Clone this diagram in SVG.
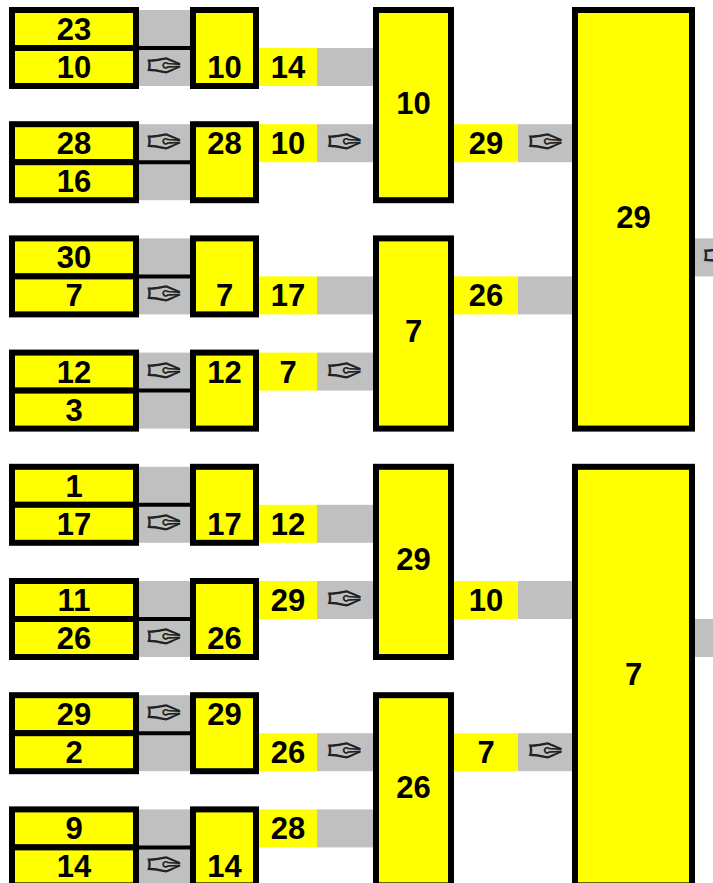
<svg xmlns="http://www.w3.org/2000/svg" width="713" height="883" viewBox="0 0 713 883">
<style>
.cell{fill:#ffff00;stroke:#000;stroke-width:6}
.gray{fill:#c0c0c0}
.lbl{fill:#ffff00}
.dv{stroke:#000;stroke-width:4}
.t{font-family:"Liberation Sans",Arial,sans-serif;font-weight:bold;font-size:31px;text-anchor:middle;fill:#000}
.a{font-family:"DejaVu Sans",sans-serif;font-size:46px;text-anchor:middle;fill:#222}
</style>
<rect width="713" height="883" fill="#fff"/>
<g id="connectors">
<rect class="gray" x="136" y="10" width="57" height="76"/><line class="dv" x1="139" y1="48" x2="190" y2="48"/><text class="a" x="164.5" y="82">✑</text>
<rect class="gray" x="136" y="124.2" width="57" height="76"/><line class="dv" x1="139" y1="162.2" x2="190" y2="162.2"/><text class="a" x="164.5" y="158.2">✑</text>
<rect class="gray" x="136" y="238.4" width="57" height="76"/><line class="dv" x1="139" y1="276.4" x2="190" y2="276.4"/><text class="a" x="164.5" y="310.4">✑</text>
<rect class="gray" x="136" y="352.6" width="57" height="76"/><line class="dv" x1="139" y1="390.6" x2="190" y2="390.6"/><text class="a" x="164.5" y="386.6">✑</text>
<rect class="gray" x="136" y="466.8" width="57" height="76"/><line class="dv" x1="139" y1="504.8" x2="190" y2="504.8"/><text class="a" x="164.5" y="538.8">✑</text>
<rect class="gray" x="136" y="581" width="57" height="76"/><line class="dv" x1="139" y1="619" x2="190" y2="619"/><text class="a" x="164.5" y="653">✑</text>
<rect class="gray" x="136" y="695.2" width="57" height="76"/><line class="dv" x1="139" y1="733.2" x2="190" y2="733.2"/><text class="a" x="164.5" y="729.2">✑</text>
<rect class="gray" x="136" y="809.4" width="57" height="76"/><line class="dv" x1="139" y1="847.4" x2="190" y2="847.4"/><text class="a" x="164.5" y="881.4">✑</text>
<rect class="gray" x="317" y="48" width="59" height="38"/><rect class="lbl" x="259" y="48" width="58" height="38"/><text class="t" x="288" y="78">14</text>
<rect class="gray" x="317" y="124.2" width="59" height="38"/><rect class="lbl" x="259" y="124.2" width="58" height="38"/><text class="t" x="288" y="154.2">10</text><text class="a" x="345" y="158.2">✑</text>
<rect class="gray" x="317" y="276.4" width="59" height="38"/><rect class="lbl" x="259" y="276.4" width="58" height="38"/><text class="t" x="288" y="306.4">17</text>
<rect class="gray" x="317" y="352.6" width="59" height="38"/><rect class="lbl" x="259" y="352.6" width="58" height="38"/><text class="t" x="288" y="382.6">7</text><text class="a" x="345" y="386.6">✑</text>
<rect class="gray" x="317" y="504.8" width="59" height="38"/><rect class="lbl" x="259" y="504.8" width="58" height="38"/><text class="t" x="288" y="534.8">12</text>
<rect class="gray" x="317" y="581" width="59" height="38"/><rect class="lbl" x="259" y="581" width="58" height="38"/><text class="t" x="288" y="611">29</text><text class="a" x="345" y="615">✑</text>
<rect class="gray" x="317" y="733.2" width="59" height="38"/><rect class="lbl" x="259" y="733.2" width="58" height="38"/><text class="t" x="288" y="763.2">26</text><text class="a" x="345" y="767.2">✑</text>
<rect class="gray" x="317" y="809.4" width="59" height="38"/><rect class="lbl" x="259" y="809.4" width="58" height="38"/><text class="t" x="288" y="839.4">28</text>
<rect class="gray" x="518" y="124.2" width="57" height="38"/><rect class="lbl" x="454" y="124.2" width="64" height="38"/><text class="t" x="486" y="154.2">29</text><text class="a" x="546" y="158.2">✑</text>
<rect class="gray" x="518" y="276.4" width="57" height="38"/><rect class="lbl" x="454" y="276.4" width="64" height="38"/><text class="t" x="486" y="306.4">26</text>
<rect class="gray" x="518" y="581" width="57" height="38"/><rect class="lbl" x="454" y="581" width="64" height="38"/><text class="t" x="486" y="611">10</text>
<rect class="gray" x="518" y="733.2" width="57" height="38"/><rect class="lbl" x="454" y="733.2" width="64" height="38"/><text class="t" x="486" y="763.2">7</text><text class="a" x="546" y="767.2">✑</text>
<rect class="gray" x="695" y="238.4" width="60" height="38"/><text class="a" x="721" y="272.4">✑</text>
<rect class="gray" x="695" y="619" width="60" height="38"/>
</g>
<g id="p1"><rect class="cell" x="12" y="10" width="124" height="38"/><rect class="cell" x="12" y="48" width="124" height="38"/><text class="t" x="74" y="40">23</text><text class="t" x="74" y="78">10</text></g>
<g id="p2"><rect class="cell" x="12" y="124.2" width="124" height="38"/><rect class="cell" x="12" y="162.2" width="124" height="38"/><text class="t" x="74" y="154.2">28</text><text class="t" x="74" y="192.2">16</text></g>
<g id="p3"><rect class="cell" x="12" y="238.4" width="124" height="38"/><rect class="cell" x="12" y="276.4" width="124" height="38"/><text class="t" x="74" y="268.4">30</text><text class="t" x="74" y="306.4">7</text></g>
<g id="p4"><rect class="cell" x="12" y="352.6" width="124" height="38"/><rect class="cell" x="12" y="390.6" width="124" height="38"/><text class="t" x="74" y="382.6">12</text><text class="t" x="74" y="420.6">3</text></g>
<g id="p5"><rect class="cell" x="12" y="466.8" width="124" height="38"/><rect class="cell" x="12" y="504.8" width="124" height="38"/><text class="t" x="74" y="496.8">1</text><text class="t" x="74" y="534.8">17</text></g>
<g id="p6"><rect class="cell" x="12" y="581" width="124" height="38"/><rect class="cell" x="12" y="619" width="124" height="38"/><text class="t" x="74" y="611">11</text><text class="t" x="74" y="649">26</text></g>
<g id="p7"><rect class="cell" x="12" y="695.2" width="124" height="38"/><rect class="cell" x="12" y="733.2" width="124" height="38"/><text class="t" x="74" y="725.2">29</text><text class="t" x="74" y="763.2">2</text></g>
<g id="p8"><rect class="cell" x="12" y="809.4" width="124" height="38"/><rect class="cell" x="12" y="847.4" width="124" height="38"/><text class="t" x="74" y="839.4">9</text><text class="t" x="74" y="877.4">14</text></g>
<g id="r1a"><rect class="cell" x="193" y="10" width="63" height="76"/><text class="t" x="224.5" y="78">10</text></g>
<g id="r1b"><rect class="cell" x="193" y="124.2" width="63" height="76"/><text class="t" x="224.5" y="154.2">28</text></g>
<g id="r1c"><rect class="cell" x="193" y="238.4" width="63" height="76"/><text class="t" x="224.5" y="306.4">7</text></g>
<g id="r1d"><rect class="cell" x="193" y="352.6" width="63" height="76"/><text class="t" x="224.5" y="382.6">12</text></g>
<g id="r1e"><rect class="cell" x="193" y="466.8" width="63" height="76"/><text class="t" x="224.5" y="534.8">17</text></g>
<g id="r1f"><rect class="cell" x="193" y="581" width="63" height="76"/><text class="t" x="224.5" y="649">26</text></g>
<g id="r1g"><rect class="cell" x="193" y="695.2" width="63" height="76"/><text class="t" x="224.5" y="725.2">29</text></g>
<g id="r1h"><rect class="cell" x="193" y="809.4" width="63" height="76"/><text class="t" x="224.5" y="877.4">14</text></g>
<g id="r2a"><rect class="cell" x="376" y="10" width="75" height="190.2"/><text class="t" x="413.5" y="114">10</text></g>
<g id="r2b"><rect class="cell" x="376" y="238.4" width="75" height="190.2"/><text class="t" x="413.5" y="341.5">7</text></g>
<g id="r2c"><rect class="cell" x="376" y="466.8" width="75" height="190.2"/><text class="t" x="413.5" y="570">29</text></g>
<g id="r2d"><rect class="cell" x="376" y="695.2" width="75" height="190.2"/><text class="t" x="413.5" y="798">26</text></g>
<g id="r3a"><rect class="cell" x="575" y="10" width="117" height="418.6"/><text class="t" x="633.5" y="228">29</text></g>
<g id="r3b"><rect class="cell" x="575" y="466.8" width="117" height="418.6"/><text class="t" x="633.5" y="685">7</text></g>
</svg>
